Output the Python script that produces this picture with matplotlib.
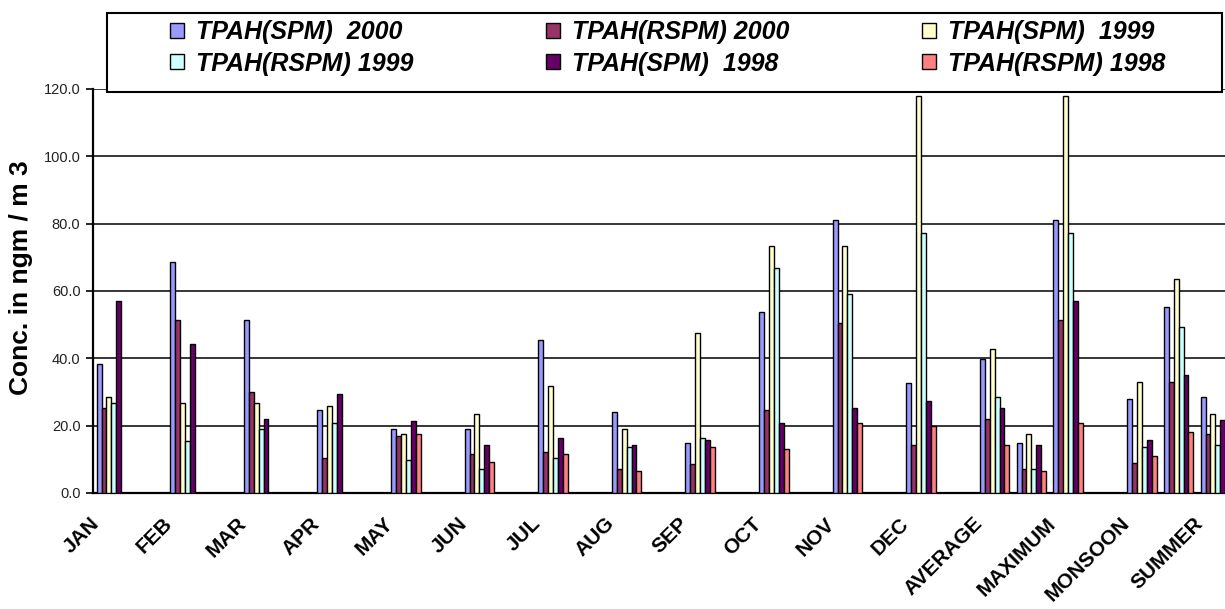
import numpy as np
import matplotlib
matplotlib.use("Agg")
import matplotlib.pyplot as plt
from matplotlib.patches import Rectangle
from matplotlib.transforms import ScaledTranslation

plt.rcParams["font.family"] = ["Liberation Sans", "DejaVu Sans"]

nan = float("nan")

# Category slots; the axis labels every second slot
categories = ["JAN", "", "FEB", "", "MAR", "", "APR", "", "MAY", "", "JUN", "",
              "JUL", "", "AUG", "", "SEP", "", "OCT", "", "NOV", "", "DEC", "",
              "AVERAGE", "MINIMUM", "MAXIMUM", "", "MONSOON", "WINTER", "SUMMER"]

# Concentrations (ngm/m3) per slot
spm_2000 = [38.3, nan, 68.7, nan, 51.4, nan, 24.7, nan, 18.9, nan, 18.9, nan,
            45.4, nan, 24.0, nan, 14.9, nan, 53.8, nan, 81.1, nan, 32.6, nan,
            39.7, 14.9, 81.1, nan, 27.9, 55.1, 28.6]
rspm_2000 = [25.3, nan, 51.4, nan, 29.9, nan, 10.4, nan, 16.8, nan, 11.7, nan,
             12.3, nan, 7.1, nan, 8.5, nan, 24.6, nan, 50.6, nan, 14.3, nan,
             22.1, 7.2, 51.4, nan, 9.0, 33.1, 17.5]
spm_1999 = [28.6, nan, 26.6, nan, 26.6, nan, 25.9, nan, 17.6, nan, 23.5, nan,
            31.9, nan, 18.9, nan, 47.4, nan, 73.4, nan, 73.4, nan, 118.0, nan,
            42.8, 17.5, 118.0, nan, 33.1, 63.6, 23.4]
rspm_1999 = [26.6, nan, 15.5, nan, 18.9, nan, 20.7, nan, 9.8, nan, 7.1, nan,
             10.5, nan, 13.6, nan, 16.2, nan, 66.7, nan, 59.0, nan, 77.1, nan,
             28.6, 7.2, 77.1, nan, 13.6, 49.4, 14.3]
spm_1998 = [57.1, nan, 44.2, nan, 22.1, nan, 29.3, nan, 21.5, nan, 14.4, nan,
            16.2, nan, 14.3, nan, 15.7, nan, 20.9, nan, 25.3, nan, 27.3, nan,
            25.3, 14.3, 57.1, nan, 15.6, 35.0, 21.6]
rspm_1998 = [nan, nan, nan, nan, nan, nan, nan, nan, 17.6, nan, 9.2, nan,
             11.7, nan, 6.5, nan, 13.7, nan, 13.1, nan, 20.7, nan, 20.0, nan,
             14.3, 6.5, 20.8, nan, 11.1, 18.2, nan]

series_labels = ["TPAH(SPM)  2000", "TPAH(RSPM) 2000", "TPAH(SPM)  1999",
                 "TPAH(RSPM) 1999", "TPAH(SPM)  1998", "TPAH(RSPM) 1998"]
series = [spm_2000, rspm_2000, spm_1999, rspm_1999, spm_1998, rspm_1998]
colors = ["#9999FF", "#993366", "#FFFFCC", "#CCFFFF", "#660066", "#FF8080"]

y_ticks = [0, 20, 40, 60, 80, 100, 120]

W, H = 1225, 609
fig = plt.figure(figsize=(W / 100, H / 100), dpi=100)
ax = fig.add_axes([93 / W, (H - 493) / H, 32 * 36.8 / W, 404 / H])

x = np.arange(len(categories))
bw = 0.8 / len(series)
handles = []
for i, (vals, col, lab) in enumerate(zip(series, colors, series_labels)):
    h = ax.bar(x + (i - 2.5) * bw, vals, width=bw, color=col,
               edgecolor="black", linewidth=1.0, label=lab, zorder=3)
    handles.append(h)

ax.set_xlim(-0.5, 31.5)
ax.set_ylim(0, 120)
ax.set_yticks(y_ticks)
ax.set_yticklabels([f"{v:.1f}" for v in y_ticks])
ax.yaxis.grid(True, color="black", linewidth=1.1)
ax.set_axisbelow(True)
for s in ("top", "right"):
    ax.spines[s].set_visible(False)
for s in ("left", "bottom"):
    ax.spines[s].set_linewidth(1.6)
    ax.spines[s].set_color("black")
ax.tick_params(axis="y", length=5, width=1.2, labelsize=10.5, pad=4,
               labelcolor="#222222")

ax.set_xticks(x[::2])
ax.set_xticklabels(categories[::2], rotation=45, ha="right", va="top",
                   rotation_mode="anchor", fontsize=15, fontweight="bold")
ax.tick_params(axis="x", length=0, pad=0)
shift = ScaledTranslation(-0.22, -0.21, fig.dpi_scale_trans)
for lbl in ax.get_xticklabels():
    lbl.set_transform(lbl.get_transform() + shift)

fig.text(21 / W, 1 - 278 / H, "Conc. in ngm / m 3", rotation=90,
         ha="center", va="center", fontsize=19, fontweight="bold")

# Legend box across the top
frame = Rectangle((107 / W, 1 - 92 / H), (1222 - 107) / W, 79 / H,
                  transform=fig.transFigure, facecolor="white",
                  edgecolor="black", linewidth=1.5, zorder=4)
fig.add_artist(frame)
order = [0, 3, 1, 4, 2, 5]
leg = fig.legend([handles[k] for k in order], [series_labels[k] for k in order],
                 loc="upper left", bbox_to_anchor=(170 / W, 1 - 20 / H), ncol=3,
                 frameon=False,
                 prop=dict(family="Liberation Sans", weight="bold",
                           style="italic", size=18),
                 handlelength=0.55, handleheight=0.55, handletextpad=0.5,
                 columnspacing=5.3, labelspacing=0.3, borderpad=0,
                 borderaxespad=0)
leg.set_zorder(5)

fig.savefig("out.png", dpi=100)
